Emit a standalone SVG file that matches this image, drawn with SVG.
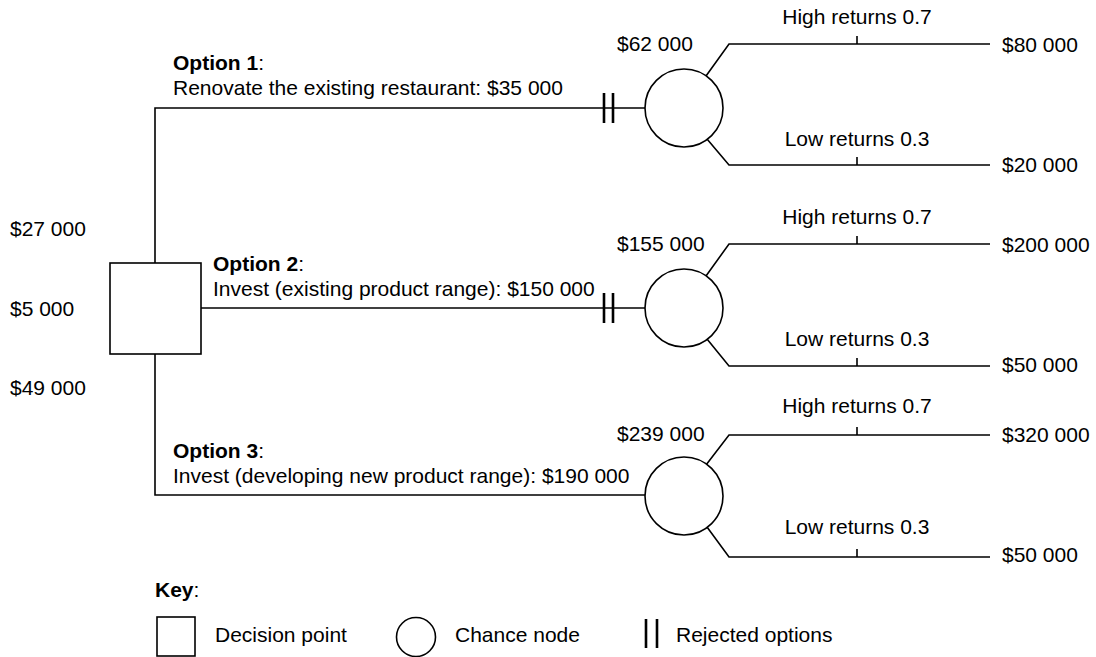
<svg xmlns="http://www.w3.org/2000/svg" width="1096" height="657" viewBox="0 0 1096 657">
<style>
text{font-family:"Liberation Sans",Arial,sans-serif;font-size:21px;fill:#000}
.b{font-weight:bold}
.ln{stroke:#000;stroke-width:1.6;fill:none}
.nd{stroke:#000;stroke-width:1.6;fill:#fff}
.rj{stroke:#000;stroke-width:2.6}
</style>
<rect width="1096" height="657" fill="#fff"/>
<g id="connectors">
<path class="ln" d="M155,263 V108 H645"/>
<path class="ln" d="M155,354 V495 H645"/>
<path class="ln" d="M201,308 H645"/>
<path class="rj" d="M604,93 V123 M613,93 V123"/>
<path class="rj" d="M604,293 V323 M613,293 V323"/>
<path class="ln" d="M706,76 L729,44 H990 M857,36 V44"/>
<path class="ln" d="M707,139 L729,165 H990 M857,157 V165"/>
<path class="ln" d="M706,276 L729,244 H990 M857,236 V244"/>
<path class="ln" d="M707,339 L729,366 H990 M857,358 V366"/>
<path class="ln" d="M706,465 L729,435 H990 M857,427 V435"/>
<path class="ln" d="M707,527 L729,557 H990 M857,549 V557"/>
</g>
<g id="decision">
<rect class="nd" x="110" y="263" width="91" height="91"/>
<text x="10" y="236">$27 000</text>
<text x="10" y="316">$5 000</text>
<text x="10" y="395">$49 000</text>
</g>
<g id="option1">
<text x="173" y="70"><tspan class="b">Option 1</tspan>:</text>
<text x="173" y="95">Renovate the existing restaurant: $35 000</text>
</g>
<g id="option2">
<text x="213" y="271"><tspan class="b">Option 2</tspan>:</text>
<text x="213" y="296">Invest (existing product range): $150 000</text>
</g>
<g id="option3">
<text x="173" y="458"><tspan class="b">Option 3</tspan>:</text>
<text x="173" y="483">Invest (developing new product range): $190 000</text>
</g>
<g id="chance1">
<circle class="nd" cx="684" cy="108" r="39"/>
<text x="617" y="51">$62 000</text>
<text x="857" y="24" text-anchor="middle">High returns 0.7</text>
<text x="857" y="146" text-anchor="middle">Low returns 0.3</text>
<text x="1002" y="52">$80 000</text>
<text x="1002" y="172">$20 000</text>
</g>
<g id="chance2">
<circle class="nd" cx="684" cy="308" r="39"/>
<text x="617" y="251">$155 000</text>
<text x="857" y="224" text-anchor="middle">High returns 0.7</text>
<text x="857" y="346" text-anchor="middle">Low returns 0.3</text>
<text x="1002" y="252">$200 000</text>
<text x="1002" y="372">$50 000</text>
</g>
<g id="chance3">
<circle class="nd" cx="684" cy="496" r="39"/>
<text x="617" y="441">$239 000</text>
<text x="857" y="413" text-anchor="middle">High returns 0.7</text>
<text x="857" y="534" text-anchor="middle">Low returns 0.3</text>
<text x="1002" y="442">$320 000</text>
<text x="1002" y="562">$50 000</text>
</g>
<g id="key">
<text x="155" y="597"><tspan class="b">Key</tspan>:</text>
<rect class="nd" x="157" y="617" width="38" height="39"/>
<text x="215" y="642">Decision point</text>
<circle class="nd" cx="416" cy="637" r="19.5"/>
<text x="455" y="642">Chance node</text>
<path class="rj" d="M646,619 V648 M657,619 V648"/>
<text x="676" y="642">Rejected options</text>
</g>
</svg>
